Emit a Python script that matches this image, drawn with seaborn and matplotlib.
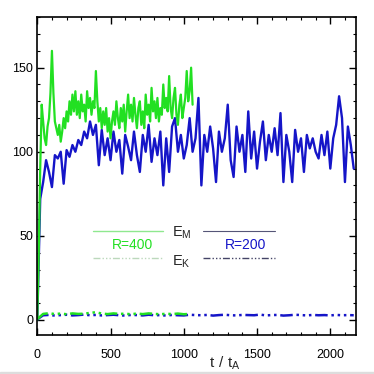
import numpy as np
import seaborn as sns
import matplotlib.pyplot as plt
from matplotlib.lines import Line2D
from matplotlib.patches import Rectangle
from matplotlib.ticker import MultipleLocator

# E_M, R=400 (green), sampled every 10 t_A
em_r400 = [0, 40, 90, 128, 118, 108, 104, 115, 120, 135,
           160, 135, 118, 114, 110, 116, 106, 112, 120, 114,
           124, 118, 130, 122, 134, 124, 136, 122, 130, 120,
           134, 124, 128, 118, 136, 126, 132, 122, 130, 126,
           148, 130, 118, 126, 114, 124, 116, 126, 112, 120,
           108, 118, 124, 116, 130, 120, 114, 126, 118, 128,
           112, 124, 134, 120, 128, 118, 132, 122, 114, 126,
           130, 116, 124, 114, 134, 122, 128, 118, 138, 124,
           130, 120, 132, 118, 126, 122, 140, 126, 132, 124,
           145, 126, 120, 132, 138, 122, 116, 128, 134, 120,
           126, 132, 148, 130, 136, 150, 128]
# E_M, R=200 (blue), sampled every 20 t_A
em_r200 = [0, 72, 82, 95, 88, 79, 98, 96, 100, 81,
           101, 97, 104, 100, 107, 104, 112, 108, 118, 110,
           116, 92, 113, 98, 108, 95, 112, 100, 107, 87,
           110, 103, 95, 112, 98, 88, 110, 100, 116, 94,
           108, 98, 112, 80, 108, 88, 115, 120, 100, 110,
           96, 104, 120, 100, 108, 132, 80, 110, 100, 115,
           102, 82, 112, 100, 108, 128, 95, 85, 115, 100,
           110, 88, 124, 96, 112, 90, 106, 118, 95, 110,
           100, 114, 98, 123, 82, 110, 100, 82, 113, 100,
           108, 88, 110, 102, 108, 100, 96, 110, 98, 112,
           90, 108, 116, 133, 120, 82, 115, 104, 90]
# E_K, sampled every 40 t_A
ek_r400 = [0.5, 3.6, 4.0, 3.5, 3.8, 3.4, 3.9, 3.6, 3.7, 4.2,
           4.6, 3.8, 3.5, 3.9, 3.6, 3.7, 3.4, 3.8, 3.5, 3.9,
           3.6, 3.4, 3.7, 3.5, 3.8, 3.4, 3.6]
ek_r200 = [0.4, 2.8, 3.0, 2.6, 2.9, 3.1, 2.7, 2.9, 3.2, 2.8,
           3.0, 2.7, 2.9, 3.1, 2.8, 2.6, 3.0, 2.9, 2.7, 3.1,
           2.8, 2.9, 2.6, 3.0, 2.8, 2.7, 3.1, 2.9, 2.8, 3.0,
           2.6, 2.9, 3.1, 2.8, 2.7, 3.0, 2.9, 2.8, 3.2, 2.7,
           2.9, 3.0, 2.6, 2.8, 3.1, 2.9, 2.7, 3.0, 2.8, 2.9,
           2.7, 3.0, 2.8, 2.9, 2.8]

t_m400 = np.arange(len(em_r400)) * 10
t_m200 = np.arange(len(em_r200)) * 20
t_k400 = np.arange(len(ek_r400)) * 40
t_k200 = np.arange(len(ek_r200)) * 40

green = '#22e022'
blue = '#1515c8'
dashdot = (0, (5, 1.5, 1, 1.5, 1, 1.5, 1, 1.5))

sns.set_style('ticks')
plt.rcParams['font.family'] = ['Liberation Sans', 'DejaVu Sans']
plt.rcParams['mathtext.fontset'] = 'custom'
plt.rcParams['mathtext.rm'] = 'Liberation Sans'

fig = plt.figure(figsize=(3.74, 3.74), dpi=100)
ax = fig.add_axes([0.0997, 0.104, 0.852, 0.850])

sns.lineplot(x=t_m200, y=em_r200, color=blue, lw=1.7, ax=ax)
sns.lineplot(x=t_m400, y=em_r400, color=green, lw=1.6, ax=ax)
sns.lineplot(x=t_k200, y=ek_r200, color=blue, lw=1.8, linestyle=dashdot, ax=ax)
sns.lineplot(x=t_k400, y=ek_r400, color=green, lw=1.8, linestyle=dashdot, ax=ax)

ax.set_xlim(0, 2175)
ax.set_ylim(-9, 180)
ax.xaxis.set_major_locator(MultipleLocator(500))
ax.xaxis.set_minor_locator(MultipleLocator(100))
ax.yaxis.set_major_locator(MultipleLocator(50))
ax.yaxis.set_minor_locator(MultipleLocator(10))
ax.tick_params(which='both', direction='in', top=True, right=True,
               colors='black', labelsize=9)
ax.tick_params(which='major', length=5, width=1)
ax.tick_params(which='minor', length=2.5, width=0.8)
ax.tick_params(axis='x', pad=10)
ax.tick_params(axis='y', pad=3)
for s in ax.spines.values():
    s.set_linewidth(1.2)
    s.set_color('black')
ax.set_xlabel('')
ax.set_ylabel('')
ax.text(0.589, -0.088, r'$\mathregular{t\ /\ t_A}$', transform=ax.transAxes,
        ha='center', va='center', fontsize=11)

# legend block
tr = ax.transAxes
ax.add_line(Line2D([0.175, 0.394], [0.327, 0.327], color='#8fe88f', lw=1, transform=tr))
ax.add_line(Line2D([0.52, 0.746], [0.327, 0.327], color='#555577', lw=0.8, transform=tr))
ax.add_line(Line2D([0.175, 0.394], [0.242, 0.242], color='#bcd8bc', lw=1, linestyle=dashdot, transform=tr))
ax.add_line(Line2D([0.52, 0.746], [0.242, 0.242], color='#444466', lw=1, linestyle=dashdot, transform=tr))
ax.text(0.423, 0.322, r'$\mathregular{E_M}$', transform=tr, ha='left', va='center', fontsize=10.5)
ax.text(0.423, 0.232, r'$\mathregular{E_K}$', transform=tr, ha='left', va='center', fontsize=10.5)
ax.text(0.30, 0.284, 'R=400', transform=tr, ha='center', va='center', fontsize=10, color=green)
ax.text(0.655, 0.284, 'R=200', transform=tr, ha='center', va='center', fontsize=10, color=blue)

fig.patches.append(Rectangle((0, 0), 1, 0.006, transform=fig.transFigure,
                             color='#dddddd', zorder=0))

fig.savefig('out.png', dpi=100)
